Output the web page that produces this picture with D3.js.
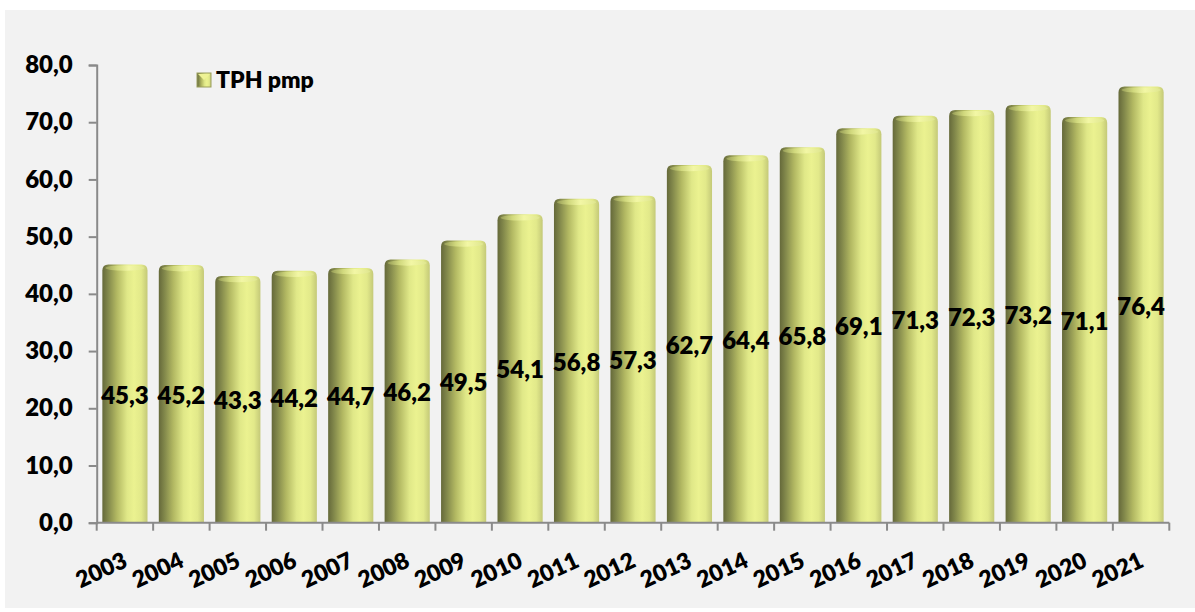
<!DOCTYPE html>
<html>
<head>
<meta charset="utf-8">
<script src="https://cdn.jsdelivr.net/npm/d3@7"></script>
<style>
html,body{margin:0;padding:0;background:#fff;}
svg{display:block;}
text{font-family:Lato,"Open Sans",sans-serif;font-weight:800;fill:#000;}
</style>
</head>
<body>
<script>
const years = ["2003","2004","2005","2006","2007","2008","2009","2010","2011","2012","2013","2014","2015","2016","2017","2018","2019","2020","2021"];
const tphValues = [45.3,45.2,43.3,44.2,44.7,46.2,49.5,54.1,56.8,57.3,62.7,64.4,65.8,69.1,71.3,72.3,73.2,71.1,76.4];
const yTicks = [0,10,20,30,40,50,60,70,80];
const seriesName = "TPH pmp";

const W = 1195, H = 612;
const svg = d3.select("body").append("svg").attr("width", W).attr("height", H);

const defs = svg.append("defs");
const g1 = defs.append("linearGradient").attr("id","barGrad").attr("x1","0").attr("x2","1").attr("y1","0").attr("y2","0");
[[0,"#65693a"],[0.12,"#80864a"],[0.32,"#b2b862"],[0.55,"#e0e888"],[0.7,"#ebf290"],[0.86,"#e2e98a"],[1,"#c4c978"]]
  .forEach(([o,c])=>g1.append("stop").attr("offset",o).attr("stop-color",c));
const g2 = defs.append("linearGradient").attr("id","capGrad").attr("x1","0").attr("x2","1").attr("y1","0").attr("y2","0");
[[0,"#9ca25a"],[0.3,"#d4dc80"],[0.6,"#f4f8a8"],[1,"#dfe690"]]
  .forEach(([o,c])=>g2.append("stop").attr("offset",o).attr("stop-color",c));

// panel
svg.append("rect").attr("x",5).attr("y",10).attr("width",W-5).attr("height",598).attr("fill","#f2f2f2");

const x = d3.scaleBand().domain(years).range([96.7, 1169.3]).paddingInner(0.2).paddingOuter(0.1);
const y = d3.scaleLinear().domain([0,80]).range([522.7, 65]);

// bars
const bars = svg.append("g");
years.forEach((yr,i)=>{
  const v = tphValues[i];
  const bx = x(yr), bw = x.bandwidth(), top = y(v)+1, base = y(0);
  const r = 6;
  bars.append("path")
    .attr("d",`M${bx},${base} L${bx},${top+r} Q${bx},${top} ${bx+r},${top} L${bx+bw-r},${top} Q${bx+bw},${top} ${bx+bw},${top+r} L${bx+bw},${base} Z`)
    .attr("fill","url(#barGrad)");
  bars.append("ellipse").attr("cx",bx+bw/2).attr("cy",top+3.5).attr("rx",bw/2-3).attr("ry",2.8)
    .attr("fill","url(#capGrad)").attr("opacity",0.9);
});

// axes
const axisColor = "#8a8a8a";
const yAxis = svg.append("g").attr("transform","translate(96.7,0)")
  .call(d3.axisLeft(y).tickValues(yTicks).tickSize(8).tickPadding(16).tickFormat(d=>d3.format(".1f")(d).replace(".",",")));
yAxis.select(".domain").attr("stroke",axisColor).attr("stroke-width",2);
yAxis.selectAll(".tick line").attr("stroke",axisColor).attr("stroke-width",2);
yAxis.selectAll(".tick text").attr("font-size",24).attr("font-family","Lato").attr("font-weight",800).attr("fill","#000");

const xAxisG = svg.append("g").attr("transform","translate(0,522.7)");
xAxisG.append("line").attr("x1",96.7).attr("x2",1169.3).attr("y1",0).attr("y2",0).attr("stroke",axisColor).attr("stroke-width",2);
d3.range(years.length+1).forEach(i=>{
  const tx = 96.7 + i*(1169.3-96.7)/years.length;
  xAxisG.append("line").attr("x1",tx).attr("x2",tx).attr("y1",0).attr("y2",8).attr("stroke",axisColor).attr("stroke-width",2);
});
years.forEach(yr=>{
  const cx = x(yr)+x.bandwidth()/2;
  svg.append("text").attr("text-anchor","end").attr("font-size",23)
    .attr("transform",`translate(${cx+4},566) rotate(-25)`).text(yr);
});

// value labels
years.forEach((yr,i)=>{
  const v = tphValues[i];
  svg.append("text").attr("x",x(yr)+x.bandwidth()/2).attr("y",y(v/2)+2).attr("dy","0.35em")
    .attr("text-anchor","middle").attr("font-size",24)
    .text(d3.format(".1f")(v).replace(".",","));
});

// legend
const lg = svg.append("g");
lg.append("rect").attr("x",197).attr("y",73).attr("width",14).attr("height",14).attr("fill","url(#barGrad)").attr("stroke","#9a9e5c").attr("stroke-width",1);
lg.append("path").attr("d","M198,74 L204,80 L210,74 Z").attr("fill","#eef295");
lg.append("text").attr("x",216).attr("y",88).attr("font-size",23).text(seriesName);
</script>
</body>
</html>
